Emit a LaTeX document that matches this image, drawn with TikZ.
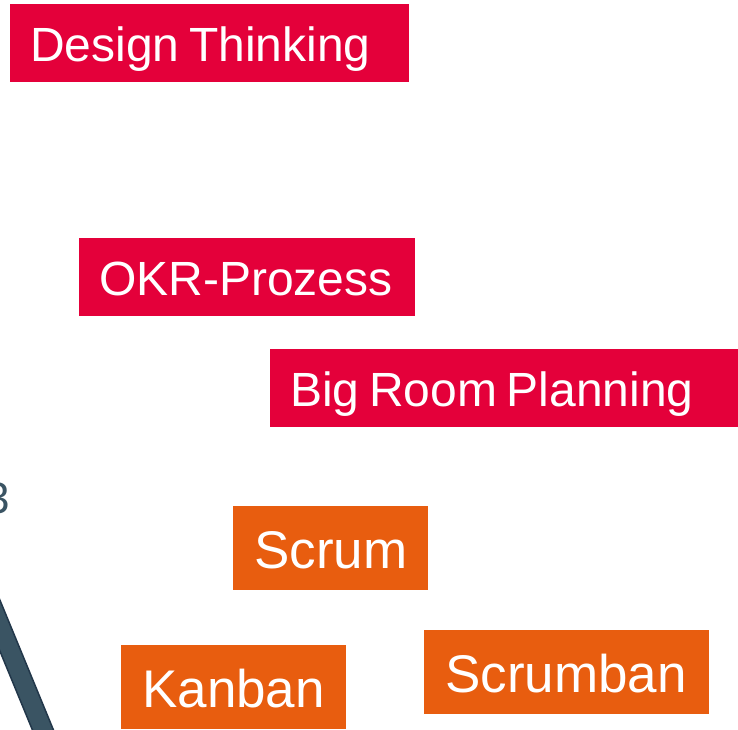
\documentclass[tikz,border=0pt]{standalone}
\usepackage{fontspec}
\setmainfont{Liberation Sans}
\usepackage{tikz}
\definecolor{agilred}{HTML}{E4003A}
\definecolor{agilorange}{HTML}{E85D0F}
\definecolor{slatefill}{HTML}{3A5463}
\definecolor{slateedge}{HTML}{22374A}

\begin{document}
\begin{tikzpicture}[x=1pt, y=-1pt,
        redbox/.style={rectangle, fill=agilred, text=white, anchor=north west, inner xsep=20pt, inner ysep=0pt,
            text height=57pt, text depth=21pt, font=\fontsize{48}{56}\selectfont,
            execute at begin node={\spaceskip=0.2em\relax}},
        orangebox/.style={rectangle, fill=agilorange, text=white, anchor=north west, inner xsep=21pt, inner ysep=0pt,
            text height=62pt, text depth=22pt, font=\fontsize{53}{62}\selectfont}
    ]
        \useasboundingbox (0,0) rectangle (738,729);
        \clip (0,0) rectangle (738,729);

        % Methoden (rot)
        \node [redbox, text width=359pt] (design) at (10,4) {Design Thinking};
        \node [redbox, text width=296pt] (okr) at (79,238) {OKR-Prozess};
        \node [redbox, text width=430pt] (bigroom) at (270,349) {Big Room Planning};

        % Methoden (orange)
        \node [orangebox, text width=153pt] (scrum) at (233,506) {Scrum};
        \node [orangebox, text width=183pt] (kanban) at (121,645) {Kanban};
        \node [orangebox, text width=243pt] (scrumban) at (424,630) {Scrumban};

        % Reste am linken Rand
        \node [text=slatefill, anchor=base east, inner sep=0pt, font=\fontsize{44}{50}\selectfont] (rest) at (10,513) {3};
        \filldraw [fill=slatefill, draw=slateedge, line width=1.5pt]
            (-10,576) -- (58,741) -- (37,741) -- (-10,627) -- cycle;
    \end{tikzpicture}
\end{document}
